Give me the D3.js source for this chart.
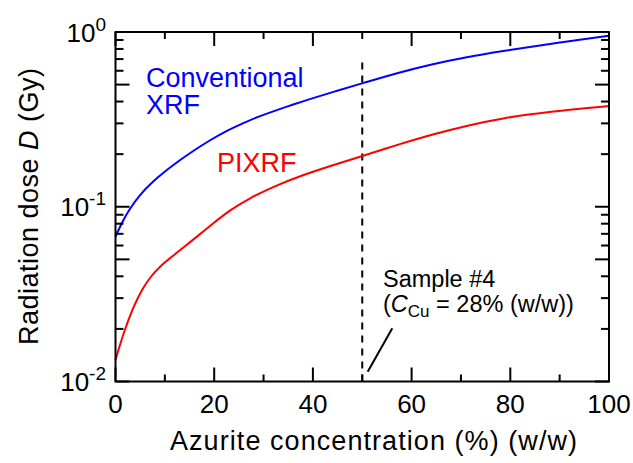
<!DOCTYPE html>
<html>
<head>
<meta charset="utf-8">
<script src="https://cdn.jsdelivr.net/npm/d3@7"></script>
<style>
  html, body { margin: 0; padding: 0; background: #fff; }
  svg { display: block; font-family: "Liberation Sans", Arial, sans-serif; }
</style>
</head>
<body>
<svg id="chart" width="633" height="463"></svg>
<script>
// ---- data ----
const concentrationXRF = [0, 1.5, 2.9, 5, 7, 9.6, 12.5, 15.7, 19.2, 22.6, 25.9, 29.3, 32.7, 36, 39.4, 44.7, 50, 57, 64.4, 71.2, 77.9, 88.6, 100];
const doseXRF = [0.0676, 0.0834, 0.0977, 0.1175, 0.1350, 0.1560, 0.1804, 0.2085, 0.2410, 0.2731, 0.3015, 0.3307, 0.3578, 0.3846, 0.4136, 0.4596, 0.5086, 0.5825, 0.6577, 0.7194, 0.7755, 0.8616, 0.9511];
const concentrationPIXRF = [0, 1.6, 3.6, 5.6, 7, 9, 12.5, 15.9, 19.5, 23.2, 27.2, 32.3, 37.4, 43.5, 50, 57.6, 64.4, 71.8, 77.9, 88, 100];
const dosePIXRF = [0.01327, 0.01888, 0.02679, 0.03451, 0.03936, 0.04581, 0.05470, 0.06537, 0.07913, 0.09581, 0.1122, 0.1314, 0.1500, 0.1711, 0.1951, 0.2286, 0.2608, 0.2936, 0.3199, 0.3508, 0.3771];
const xTicks = [0, 20, 40, 60, 80, 100];
const xMinorTicks = [10, 30, 50, 70, 90];
const yTickExponents = [0, -1, -2];
const sampleConcentration = 50;
const seriesNames = ["Conventional", "XRF", "PIXRF"];

// ---- layout ----
const svg = d3.select("#chart");
const L = 115.5, R = 609, T = 32, B = 381.5;
const x = d3.scaleLinear().domain([0, 100]).range([L, R]);
const y = d3.scaleLog().domain([0.01, 1]).range([B, T]);

const black = "#000";

// dashed sample line
svg.append("line")
  .attr("x1", x(sampleConcentration)).attr("x2", x(sampleConcentration))
  .attr("y1", y(0.01)).attr("y2", y(0.69))
  .attr("stroke", black).attr("stroke-width", 2)
  .attr("stroke-dasharray", "7,6");

// curves
function makeLine(xs) {
  return d3.line()
    .x((d, i) => x(xs[i]))
    .y(d => y(d))
    .curve(d3.curveBasis);
}

svg.append("path").datum(doseXRF)
  .attr("d", makeLine(concentrationXRF)).attr("fill", "none")
  .attr("stroke", "#0000ff").attr("stroke-width", 2);
svg.append("path").datum(dosePIXRF)
  .attr("d", makeLine(concentrationPIXRF)).attr("fill", "none")
  .attr("stroke", "#ff0000").attr("stroke-width", 2);

// ticks (inward on all four sides)
const tg = svg.append("g").attr("stroke", black).attr("stroke-width", 2);
xTicks.forEach(v => {
  tg.append("line").attr("x1", x(v)).attr("x2", x(v)).attr("y1", B).attr("y2", B - 14);
  tg.append("line").attr("x1", x(v)).attr("x2", x(v)).attr("y1", T).attr("y2", T + 14);
});
xMinorTicks.forEach(v => {
  tg.append("line").attr("x1", x(v)).attr("x2", x(v)).attr("y1", B).attr("y2", B - 7);
  tg.append("line").attr("x1", x(v)).attr("x2", x(v)).attr("y1", T).attr("y2", T + 7);
});
[-2, -1].forEach(e => {
  for (let m = 1; m <= 9; m++) {
    const v = m * Math.pow(10, e);
    const len = (m === 1 || m === 5) ? 14 : 8;
    tg.append("line").attr("x1", L).attr("x2", L + len).attr("y1", y(v)).attr("y2", y(v));
    tg.append("line").attr("x1", R).attr("x2", R - len).attr("y1", y(v)).attr("y2", y(v));
  }
});

// frame
svg.append("rect").attr("x", L).attr("y", T).attr("width", R - L).attr("height", B - T)
  .attr("fill", "none").attr("stroke", black).attr("stroke-width", 2);

// x tick labels
svg.append("g").selectAll("text").data(xTicks).join("text")
  .attr("x", d => x(d)).attr("y", 413)
  .attr("text-anchor", "middle").attr("font-size", 26).attr("fill", black)
  .text(d => d);

// y tick labels
yTickExponents.forEach(e => {
  const t = svg.append("text")
    .attr("x", 106).attr("y", y(Math.pow(10, e)) + 9.5)
    .attr("text-anchor", "end").attr("font-size", 26).attr("fill", black);
  t.append("tspan").text("10");
  t.append("tspan").attr("font-size", 19).attr("dy", -11).text(String(e));
});

// axis titles
svg.append("text")
  .attr("x", 170).attr("y", 450)
  .attr("font-size", 27).attr("fill", black)
  .attr("textLength", 407).attr("lengthAdjust", "spacing")
  .text("Azurite concentration (%) (w/w)");

const yt = svg.append("text")
  .attr("transform", "translate(37.5,345) rotate(-90)")
  .attr("font-size", 27).attr("fill", black)
  .attr("textLength", 277).attr("lengthAdjust", "spacing");
yt.append("tspan").text("Radiation dose ");
yt.append("tspan").attr("font-style", "italic").text("D");
yt.append("tspan").text(" (Gy)");

// series labels
svg.append("text").attr("x", 146).attr("y", 86.5)
  .attr("font-size", 27).attr("fill", "#0000ff").text(seriesNames[0]);
svg.append("text").attr("x", 146).attr("y", 114)
  .attr("font-size", 27).attr("fill", "#0000ff").text(seriesNames[1]);
svg.append("text").attr("x", 217).attr("y", 171.5)
  .attr("font-size", 27).attr("fill", "#ff0000").text(seriesNames[2]);

// annotation
svg.append("text").attr("x", 383).attr("y", 287)
  .attr("font-size", 23.5).attr("fill", black).text("Sample #4");
const a2 = svg.append("text").attr("x", 383).attr("y", 312)
  .attr("font-size", 23.5).attr("fill", black);
a2.append("tspan").text("(");
a2.append("tspan").attr("font-style", "italic").text("C");
a2.append("tspan").attr("font-size", 17).attr("dy", 5).text("Cu");
a2.append("tspan").attr("dy", -5).text(" = 28% (w/w))");

svg.append("line")
  .attr("x1", 392.3).attr("y1", 328.3).attr("x2", 367.7).attr("y2", 371.7)
  .attr("stroke", black).attr("stroke-width", 2);
</script>
</body>
</html>
